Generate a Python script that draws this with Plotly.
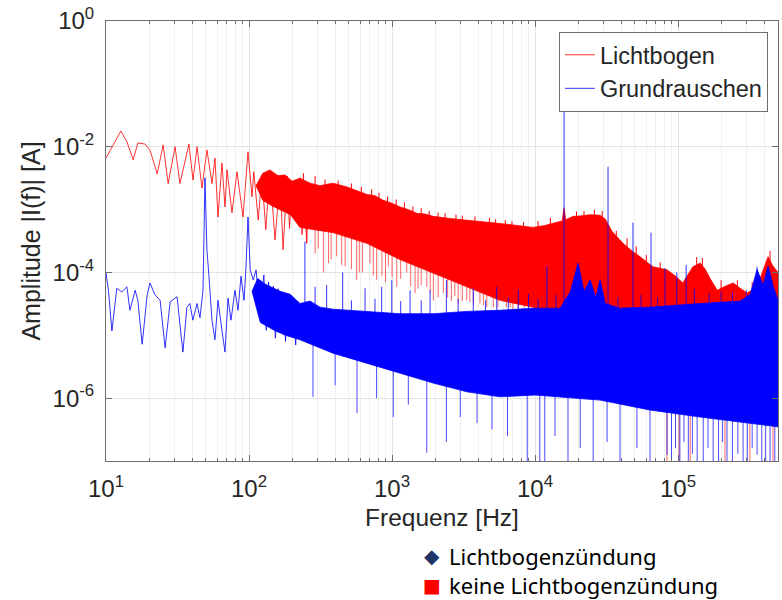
import numpy as np
import plotly.graph_objects as go

# ---------------- data ----------------
# Lichtbogen (red) - low-frequency single line
red_line_f = [10.0, 11.2, 12.7, 14.0, 15.5, 16.7, 18.8, 20.3, 22.8, 25.1, 27.2, 30.4, 32.9, 38.0, 40.6,
              43.3, 46.9, 50.8, 55.1, 57.8, 60.7, 64.7, 67.9, 70.2, 76.0, 82.4, 90.8, 98.4, 105, 108,
              116, 123, 131, 140, 152, 165, 173, 185, 192, 200, 207, 213, 220, 227, 235, 243, 253, 262]
red_line_a = [6.6e-3, 1.07e-2, 1.78e-2, 1.2e-2, 6.2e-3, 1.15e-2, 1.1e-2, 8.9e-3, 3.7e-3, 1.07e-2,
              2.6e-3, 1.0e-2, 2.6e-3, 1.1e-2, 2.95e-3, 1.0e-2, 2.2e-3, 8.9e-3, 2.6e-3, 6.6e-3,
              7.6e-4, 5.5e-3, 1.1e-3, 4.3e-3, 8.9e-4, 4.0e-3, 7.6e-4, 8.3e-3, 1.6e-3, 4.0e-3,
              6.8e-4, 3.5e-3, 4.8e-4, 4.0e-3, 3.3e-4, 3.2e-3, 2.3e-4, 3.4e-3, 5.0e-4, 2.8e-3,
              8.0e-4, 3.0e-3, 6.0e-4, 3.2e-3, 4.0e-4, 2.6e-3, 2.9e-4, 2.7e-3]

# Lichtbogen - dense band, upper and lower envelope
red_up_f = [112, 125, 140, 159, 179, 200, 227, 267, 314, 386, 484, 569, 668, 760, 865, 1000, 1138, 1295,
            1496, 1702, 1936, 2546, 3345, 4326, 5690, 7480, 9680, 11750, 14300, 15500, 15950, 16400,
            18500, 20700, 24300, 28500, 31000, 34500, 41200, 47600, 54200, 66800, 83700, 95000, 108000,
            117000, 127000, 143000, 155000, 168000, 188000, 213000, 243000, 272000, 304000, 357000,
            393000, 426000, 461000, 500000]
red_up_a = [2.4e-3, 3.8e-3, 4.27e-3, 3.47e-3, 3.55e-3, 2.82e-3, 3.16e-3, 2.63e-3, 2.4e-3, 2.63e-3,
            2.29e-3, 2.0e-3, 1.74e-3, 1.66e-3, 1.41e-3, 1.26e-3, 1.1e-3, 1.0e-3, 8.7e-4, 8.5e-4,
            7.8e-4, 7.2e-4, 6.8e-4, 6.5e-4, 6.0e-4, 5.6e-4, 5.2e-4, 5.6e-4, 6.3e-4, 6.6e-4,
            1.07e-3, 6.9e-4, 7.8e-4, 7.9e-4, 8.3e-4, 8.1e-4, 7.1e-4, 4.5e-4, 2.9e-4, 2.2e-4,
            1.78e-4, 1.23e-4, 1.1e-4, 8.9e-5, 6.8e-5, 8.9e-5, 1.23e-4, 1.41e-4, 1.12e-4, 7.9e-5,
            5.2e-5, 6.0e-5, 6.8e-5, 5.6e-5, 4.7e-5, 5.9e-5, 1.12e-4, 1.78e-4, 1.26e-4, 1.0e-4]
red_lo_f = [112, 125, 150, 195, 227, 386, 668, 1138, 1936, 3345, 5690, 9680, 15000, 30000, 100000, 500000]
red_lo_a = [2.4e-3, 1.4e-3, 1.1e-3, 8.3e-4, 5.2e-4, 4.3e-4, 2.9e-4, 1.6e-4, 1.0e-4, 5.9e-5, 3.6e-5,
            2.8e-5, 1.6e-5, 1.0e-5, 1.0e-5, 1.0e-5]
# Lichtbogen - small maxima sticking out of the top of the band
red_peak_f = [240, 290, 340, 420, 520, 610, 720, 810, 930, 1070, 1220, 1400, 1600, 1820, 2100, 2350,
              2800, 3100, 3800, 4800, 5300, 6200, 6900, 8300, 10500, 12800, 19500, 22000, 26000, 29500,
              37000, 44000, 51000, 60000, 75000, 135000, 148000, 200000, 260000, 330000, 440000]
red_peak_a = [3.8e-3, 3.4e-3, 3.0e-3, 2.9e-3, 2.6e-3, 2.3e-3, 2.1e-3, 1.85e-3, 1.6e-3, 1.45e-3,
              1.3e-3, 1.12e-3, 1.05e-3, 9.5e-4, 9.0e-4, 8.7e-4, 8.3e-4, 8.0e-4, 7.8e-4, 7.4e-4,
              7.0e-4, 6.8e-4, 6.5e-4, 6.3e-4, 6.6e-4, 7.4e-4, 9.3e-4, 9.5e-4, 1.0e-3, 9.5e-4,
              4.6e-4, 3.5e-4, 2.6e-4, 1.9e-4, 1.45e-4, 1.75e-4, 1.7e-4, 7.5e-5, 7.5e-5, 7.0e-5, 2.2e-4]
# Lichtbogen - deep minima (dips) below the band
red_dip_f = [253, 290, 305, 331, 360, 375, 410, 445, 470, 520, 566, 590, 620, 701, 740, 781, 850, 900,
             942, 1000, 1079, 1150, 1267, 1350, 1449, 1520, 1600, 1750, 1850, 1946, 2100, 2285, 2450,
             2600, 2750, 2900, 3100, 3330, 3500, 3700, 4120, 4350, 4600, 5110, 5500, 6300, 6700, 7000,
             7600, 8400, 83700, 101600, 121600, 213000, 318000, 461000]
red_dip_a = [2.9e-4, 2.0e-4, 2.4e-4, 1.0e-4, 1.4e-4, 1.6e-4, 1.8e-4, 1.3e-4, 1.26e-4, 1.12e-4, 7.6e-5,
             1.0e-4, 1.0e-4, 1.4e-4, 9.0e-5, 7.6e-5, 8.9e-5, 7.0e-5, 1.23e-4, 8.5e-5, 5.9e-5, 7.9e-5,
             1.0e-4, 6.0e-5, 4.7e-5, 5.5e-5, 6.3e-5, 5.9e-5, 4.8e-5, 3.6e-5, 4.0e-5, 4.7e-5, 4.0e-5,
             3.5e-5, 4.2e-5, 3.2e-5, 3.5e-5, 3.6e-5, 3.4e-5, 3.2e-5, 3.2e-5, 3.0e-5, 2.8e-5, 2.8e-5,
             2.8e-5, 2.8e-5, 2.8e-5, 2.5e-5, 2.7e-5, 2.7e-5, 8e-8, 8e-8, 8e-8, 8e-8, 8e-8, 8e-8]

# Grundrauschen (blue) - low-frequency single line
blue_line_f = [10.0, 10.4, 11.0, 11.9, 12.9, 14.0, 14.7, 16.0, 16.7, 17.9, 19.4, 20.3, 22.0, 23.9, 25.9,
               28.1, 30.4, 31.4, 32.9, 34.5, 36.8, 38.6, 40.5, 43.3, 45.4, 47.7, 49.2, 50.8, 52.5, 55.1,
               57.8, 60.7, 64.7, 67.9, 71.3, 74.8, 79.8, 83.8, 87.9, 92.3, 95.2, 98.4, 102, 107, 112,
               119, 127, 132, 137, 142, 148, 153, 160, 166, 172, 180, 188, 196, 204, 212, 220]
blue_line_a = [9.8e-5, 5.2e-5, 1.17e-5, 5.6e-5, 4.9e-5, 5.9e-5, 2.5e-5, 5.2e-5, 3.6e-5, 7.2e-6,
               4.4e-5, 6.8e-5, 4.4e-5, 3.6e-5, 6.3e-6, 3.4e-5, 3.9e-5, 4.1e-5, 1.48e-5, 5.4e-6,
               2.8e-5, 3.2e-5, 1.74e-5, 3.2e-5, 1.9e-5, 5.2e-5, 3.2e-3, 2.3e-4, 8.5e-5, 1.74e-5,
               8.5e-6, 3.6e-5, 1.2e-5, 5.4e-6, 3.9e-5, 1.74e-5, 5.2e-5, 2.5e-5, 8.7e-5, 3.6e-5,
               1.17e-4, 7.6e-4, 1.1e-4, 7.6e-5, 1.1e-4, 2.5e-5, 9.1e-5, 1.2e-5, 7.0e-5, 2.0e-5,
               6.0e-5, 9.0e-6, 5.5e-5, 1.5e-5, 4.8e-5, 8.0e-6, 4.5e-5, 1.2e-5, 4.0e-5, 7.0e-6, 3.5e-5]

# Grundrauschen - dense band, upper and lower envelope
blue_up_f = [105, 115, 130, 150, 165, 194, 227, 267, 314, 386, 507, 668, 865, 1138, 1936, 3345, 5690,
             9680, 15000, 17700, 20000, 22000, 24300, 26600, 28500, 31000, 39000, 63000, 143000,
             272000, 320000, 357000, 393000, 426000, 461000, 500000]
blue_up_a = [5.0e-5, 8.0e-5, 6.5e-5, 5.5e-5, 5.0e-5, 4.5e-5, 3.2e-5, 3.5e-5, 2.8e-5, 2.6e-5,
             2.5e-5, 2.4e-5, 2.3e-5, 2.2e-5, 2.2e-5, 2.4e-5, 2.5e-5, 2.7e-5, 2.7e-5, 5.0e-5,
             1.41e-4, 5.0e-5, 7.6e-5, 4.0e-5, 7.6e-5, 3.2e-5, 2.7e-5, 2.8e-5, 3.2e-5, 3.5e-5,
             4.5e-5, 1.12e-4, 6.3e-5, 1.26e-4, 6.3e-5, 3.6e-5]
blue_lo_f = [105, 120, 150, 180, 227, 386, 668, 1138, 1936, 3345, 5690, 10000, 28500, 63000, 143000, 500000]
blue_lo_a = [5.0e-5, 1.6e-5, 1.2e-5, 1.0e-5, 8.5e-6, 5.2e-6, 3.6e-6, 2.5e-6, 1.74e-6, 1.26e-6, 1.05e-6,
             1.12e-6, 9.3e-7, 6.5e-7, 5.0e-7, 3.5e-7]
# Grundrauschen - harmonic peaks and small maxima above the band
blue_spike_f = [246, 290, 349, 452, 520, 648, 760, 847, 996, 1150, 1337, 1600, 1845, 2400, 2900, 3700,
                4500, 5400, 6500, 7640, 9000, 10500, 12100, 14000, 15960, 32400, 38000, 48400, 55000,
                64700, 72000, 81000, 98000, 114000, 130000, 165000, 200000, 240000, 300000, 357000]
blue_spike_a = [3.1e-4, 5.9e-5, 6.3e-5, 1.0e-4, 3.6e-5, 5.6e-5, 3.8e-5, 5.9e-5, 7.6e-5, 3.5e-5,
                5.2e-5, 3.6e-5, 5.2e-5, 7.6e-5, 3.8e-5, 5.6e-5, 3.6e-5, 5.9e-5, 4.0e-5, 5.2e-5,
                4.5e-5, 3.8e-5, 1.26e-4, 4.4e-5, 4.3e-2, 4.8e-3, 4.0e-5, 6.2e-4, 4.4e-5,
                4.3e-4, 4.0e-5, 1.17e-4, 1.0e-4, 1.32e-4, 5.5e-5, 4.6e-5, 5.0e-5, 4.8e-5, 5.2e-5, 1.23e-4]
# Grundrauschen - deep minima
blue_dip_f = [280, 400, 569, 780, 1020, 1300, 1750, 2400, 3000, 3930, 5000, 6420, 8820, 10800, 11700,
              13800, 17000, 20700, 25500, 31900, 39300, 51600, 63700, 83700, 90000, 96000, 103000,
              110000, 118000, 126000, 136000, 150000, 162000, 176000, 192000, 205000, 220000, 240000,
              262000, 285000, 305000, 330000, 357000, 385000, 410000, 440000, 475000]
blue_dip_a = [1.05e-6, 1.6e-6, 5.8e-7, 1.0e-6, 5.0e-7, 7.9e-7, 1.35e-7, 2.0e-7, 5.0e-7, 4.0e-7,
              3.2e-7, 2.5e-7, 8e-8, 8e-8, 8e-8, 2.5e-7, 8e-8, 1.6e-7, 8e-8, 2.0e-7,
              8e-8, 1.6e-7, 8e-8, 1.26e-7, 8e-8, 1.6e-7, 8e-8, 2.0e-7, 8e-8, 1.3e-7,
              8e-8, 8e-8, 1.6e-7, 8e-8, 8e-8, 2.0e-7, 8e-8, 8e-8, 1.3e-7, 8e-8,
              8e-8, 1.6e-7, 1.26e-7, 8e-8, 8e-8, 8e-8, 8e-8]

x_tickvals = [1e1, 1e2, 1e3, 1e4, 1e5]
x_ticktext = ["10<sup>1</sup>", "10<sup>2</sup>", "10<sup>3</sup>", "10<sup>4</sup>", "10<sup>5</sup>"]
y_tickvals = [1e0, 1e-2, 1e-4, 1e-6]
y_ticktext = ["10<sup>0</sup>", "10<sup>-2</sup>", "10<sup>-4</sup>", "10<sup>-6</sup>"]
x_minor = [m * 10 ** d for d in range(1, 6) for m in range(2, 10) if m * 10 ** d <= 5e5]

RED = "#ff0000"
BLUE = "#0000ff"
RED_LINE = "rgba(255,0,0,0.8)"
BLUE_LINE = "rgba(0,0,255,0.8)"
FONT = "Liberation Sans, Arial, sans-serif"


def segments(fs, tops, bottoms):
    xs, ys = [], []
    for f, t, b in zip(fs, tops, bottoms):
        xs += [f, f, None]
        ys += [t, b, None]
    return xs, ys


def loginterp(f, xf, xa):
    return 10 ** np.interp(np.log10(f), np.log10(xf), np.log10(xa))


fig = go.Figure()

# ---- red: band, top maxima, dips, line
fig.add_trace(go.Scatter(x=red_up_f + red_lo_f[::-1], y=red_up_a + red_lo_a[::-1],
                         mode="lines", fill="toself", fillcolor=RED,
                         line=dict(color=RED, width=0.8), showlegend=False, hoverinfo="skip"))
px_, py_ = segments(red_peak_f, list(loginterp(red_peak_f, red_up_f, red_up_a) * 0.8), red_peak_a)
fig.add_trace(go.Scatter(x=px_, y=py_, mode="lines", line=dict(color=RED, width=1),
                         showlegend=False, hoverinfo="skip"))
rd_top = list(loginterp(red_dip_f, red_lo_f, red_lo_a) * 1.2)
dx, dy = segments(red_dip_f, rd_top, red_dip_a)
fig.add_trace(go.Scatter(x=dx, y=dy, mode="lines", line=dict(color=RED, width=1),
                         opacity=0.6, showlegend=False, hoverinfo="skip"))
fig.add_trace(go.Scatter(x=red_line_f, y=red_line_a, mode="lines", name="Lichtbogen",
                         line=dict(color=RED_LINE, width=1)))

# ---- blue: band, dips, peaks, line
fig.add_trace(go.Scatter(x=blue_up_f + blue_lo_f[::-1], y=blue_up_a + blue_lo_a[::-1],
                         mode="lines", fill="toself", fillcolor=BLUE,
                         line=dict(color=BLUE, width=0.8), showlegend=False, hoverinfo="skip"))
bd_top = list(loginterp(blue_dip_f, blue_lo_f, blue_lo_a) * 1.3)
bx, by = segments(blue_dip_f, bd_top, blue_dip_a)
fig.add_trace(go.Scatter(x=bx, y=by, mode="lines", line=dict(color=BLUE, width=1),
                         opacity=0.7, showlegend=False, hoverinfo="skip"))
bs_base = list(loginterp(blue_spike_f, blue_up_f, blue_up_a) * 0.8)
sx, sy = segments(blue_spike_f, bs_base, blue_spike_a)
fig.add_trace(go.Scatter(x=sx, y=sy, mode="lines", line=dict(color=BLUE, width=1),
                         opacity=0.8, showlegend=False, hoverinfo="skip"))
fig.add_trace(go.Scatter(x=blue_line_f, y=blue_line_a, mode="lines", name="Grundrauschen",
                         line=dict(color=BLUE_LINE, width=1)))

axis_common = dict(showline=True, linecolor="#6e6e6e", linewidth=1, mirror="ticks",
                   ticks="inside", tickcolor="#6e6e6e", ticklen=6, zeroline=False,
                   tickfont=dict(family=FONT, size=24, color="#262626"),
                   gridcolor="#e3e3e3", showgrid=True)

fig.update_xaxes(type="log", range=[1, np.log10(5e5)], tickvals=x_tickvals, ticktext=x_ticktext,
                 minor=dict(tickvals=x_minor, ticks="inside", ticklen=3, tickcolor="#6e6e6e",
                            showgrid=True, gridcolor="#f0f0f0"),
                 title=dict(text="Frequenz [Hz]", font=dict(family=FONT, size=24.5, color="#262626"),
                            standoff=8),
                 ticklabelstandoff=6, **axis_common)
fig.update_yaxes(type="log", range=[-7, 0], tickvals=y_tickvals, ticktext=y_ticktext,
                 title=dict(text="Amplitude |I(f)| [A]", font=dict(family=FONT, size=25, color="#262626"),
                            standoff=4),
                 ticklabelstandoff=6, **axis_common)

fig.update_layout(
    width=782, height=600, autosize=False,
    margin=dict(l=106, r=4, t=21, b=139),
    paper_bgcolor="white", plot_bgcolor="white",
    legend=dict(x=0.985, y=0.975, xanchor="right", yanchor="top",
                bgcolor="white", bordercolor="#6e6e6e", borderwidth=1,
                font=dict(family=FONT, size=23.5, color="#262626"),
                tracegroupgap=0, itemwidth=30),
    annotations=[
        dict(xref="paper", yref="paper", x=0.485, y=-0.216, text="◆", showarrow=False,
             xanchor="center", yanchor="middle", font=dict(family="DejaVu Sans", size=20, color="#1f3564")),
        dict(xref="paper", yref="paper", x=0.485, y=-0.281, text="■", showarrow=False,
             xanchor="center", yanchor="middle", font=dict(family="DejaVu Sans", size=19, color="#ff0000")),
        dict(xref="paper", yref="paper", x=0.507, y=-0.2485,
             text="Lichtbogenzündung<br>keine Lichtbogenzündung", showarrow=False, align="left",
             xanchor="left", yanchor="middle", font=dict(family="Noto Sans", size=22, color="black")),
    ],
)

fig.write_html("out.html")
